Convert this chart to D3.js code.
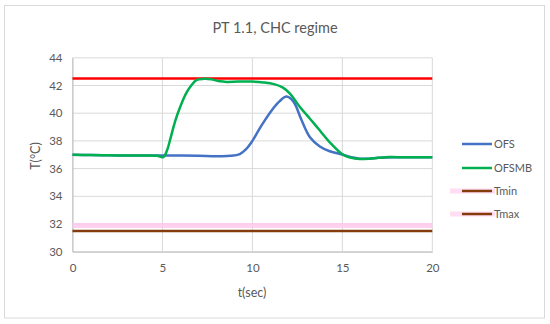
<!DOCTYPE html>
<html><head><meta charset="utf-8">
<script src="https://cdn.jsdelivr.net/npm/d3@7"></script>
<style>body{margin:0;background:#fff}svg{display:block}text{font-family:Lato,"Open Sans",sans-serif;fill:#595959}</style>
</head><body><svg id="c" width="550" height="324"></svg>
<script>
const title = "PT 1.1, CHC regime";
const xTicks = [0,5,10,15,20];
const yTicks = [30,32,34,36,38,40,42,44];
const ofsT = [0,1,2,3,4,5,6,7,8,8.8,9.3,9.65,9.95,10.5,11.07,11.5,11.9,12.3,12.7,13.2,13.75,14.3,15.04,15.5,15.97,16.5,17,18,19,20];
const ofsV = [37.0,36.98,36.96,36.95,36.95,36.94,36.94,36.93,36.9,36.92,37.05,37.4,37.9,39.1,40.2,40.85,41.2,40.8,39.6,38.27,37.6,37.25,37.0,36.82,36.72,36.72,36.78,36.82,36.82,36.82];
const ofsmbT = [0,1,2,3,4,4.7,5.05,5.25,5.45,5.7,6.0,6.3,6.6,6.9,7.3,7.7,8.2,8.57,9.2,9.95,10.6,11.2,11.7,12.1,12.64,13.2,13.75,14.3,15.04,15.5,15.97,16.5,17,17.6,18.5,20];
const ofsmbV = [37.0,36.98,36.96,36.95,36.94,36.92,36.83,37.3,38.2,39.4,40.5,41.4,42.0,42.4,42.48,42.45,42.3,42.26,42.28,42.28,42.22,42.1,41.85,41.4,40.45,39.6,38.75,37.9,37.0,36.78,36.7,36.72,36.78,36.83,36.82,36.82];
const redLevel = 42.5;
const pinkLevel = 31.9;
const brownLevel = 31.5;
const legendNames = ["OFS","OFSMB","Tmin","Tmax"];

const svg = d3.select("#c");
svg.append("rect").attr("x",4.5).attr("y",5.5).attr("width",540).attr("height",312.5).attr("fill","#fff").attr("stroke","#D9D9D9");

const x = d3.scaleLinear().domain([0,20]).range([72.5,432.3]);
const y = d3.scaleLinear().domain([30,44]).range([251.7,57.8]);

svg.append("g").selectAll("line").data(yTicks).join("line")
  .attr("x1",x(0)).attr("x2",x(20)).attr("y1",d=>y(d)).attr("y2",d=>y(d))
  .attr("stroke","#D9D9D9").attr("stroke-width",1);
svg.append("g").selectAll("line").data(xTicks).join("line")
  .attr("x1",d=>x(d)).attr("x2",d=>x(d)).attr("y1",y(30)).attr("y2",y(44))
  .attr("stroke","#D9D9D9").attr("stroke-width",1);

const gx = svg.append("g").attr("transform",`translate(0,${y(30)})`)
  .call(d3.axisBottom(x).tickValues(xTicks).tickSize(0).tickPadding(12));
gx.select(".domain").attr("stroke","#BFBFBF");
gx.selectAll("text").attr("font-size",11.5).style("fill","#595959");
const gy = svg.append("g").attr("transform",`translate(${x(0)},0)`)
  .call(d3.axisLeft(y).tickValues(yTicks).tickSize(0).tickPadding(10));
gy.select(".domain").attr("stroke","#BFBFBF");
gy.selectAll("text").attr("font-size",11.5).style("fill","#595959");

svg.append("line").attr("x1",x(0)).attr("x2",x(20)).attr("y1",y(pinkLevel)).attr("y2",y(pinkLevel))
  .attr("stroke","#FFC9EE").attr("stroke-width",5).attr("opacity",0.85);
svg.append("line").attr("x1",x(0)).attr("x2",x(20)).attr("y1",y(brownLevel)).attr("y2",y(brownLevel))
  .attr("stroke","#843C0C").attr("stroke-width",2.5);
svg.append("line").attr("x1",x(0)).attr("x2",x(20)).attr("y1",y(redLevel)).attr("y2",y(redLevel))
  .attr("stroke","#FF0000").attr("stroke-width",2.5);

const line = d3.line().x(d=>x(d[0])).y(d=>y(d[1])).curve(d3.curveCatmullRom.alpha(0.5));
svg.append("path").datum(ofsT.map((t,i)=>[t,ofsV[i]])).attr("d",line)
  .attr("fill","none").attr("stroke","#4472C4").attr("stroke-width",2.5);
svg.append("path").datum(ofsmbT.map((t,i)=>[t,ofsmbV[i]])).attr("d",line)
  .attr("fill","none").attr("stroke","#00B050").attr("stroke-width",2.5);

svg.append("text").attr("x",275).attr("y",33).attr("text-anchor","middle").attr("font-size",14.5).style("fill","#595959").text(title);
svg.append("text").attr("x",252).attr("y",297).attr("text-anchor","middle").attr("font-size",12.5).style("fill","#595959").text("t(sec)");
svg.append("text").attr("transform","translate(40,156) rotate(-90)").attr("text-anchor","middle").attr("font-size",12.5)
  .style("fill","#595959").text("T(°C)");

const legColors = ["#4472C4","#00B050","#843C0C","#843C0C"];
const legY = [144,168,191,214];
legendNames.forEach((n,i)=>{
  if(i>=2) svg.append("line").attr("x1",450).attr("x2",495).attr("y1",legY[i]).attr("y2",legY[i])
     .attr("stroke","#FFD6F2").attr("stroke-width",5).attr("opacity",0.8);
  svg.append("line").attr("x1",462).attr("x2",492).attr("y1",legY[i]).attr("y2",legY[i])
    .attr("stroke",legColors[i]).attr("stroke-width",2.5);
  svg.append("text").attr("x",494).attr("y",legY[i]+4).attr("font-size",11).style("fill","#595959").text(n);
});
</script></body></html>
